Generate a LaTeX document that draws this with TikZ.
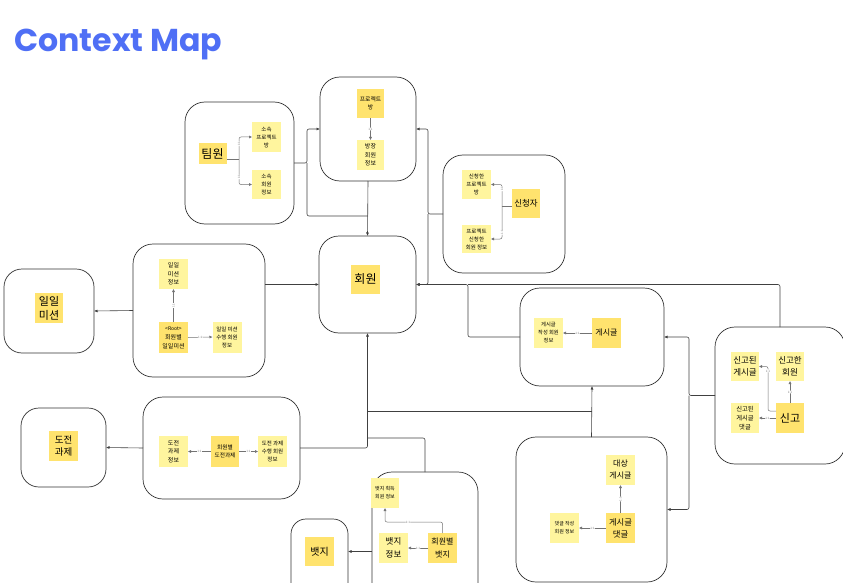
\documentclass[tikz,border=0pt]{standalone}
\usepackage{fontspec}
\setmainfont{Noto Sans CJK KR}
\newfontfamily\titlefont{Poppins}
\usetikzlibrary{arrows.meta}
\definecolor{stDark}{HTML}{FFE36E}
\definecolor{stLight}{HTML}{FFF59E}
\definecolor{titleblue}{HTML}{4F6FF5}
\newcommand{\fs}[1]{\fontsize{#1}{#1}\selectfont}
\tikzset{
  box/.style={draw=black!80, line width=0.7pt, rounded corners=20pt, inner sep=0pt, outer sep=0pt, fill=white},
  stD/.style={fill=stDark, inner sep=0.5pt, outer sep=0pt, align=center, text=black},
  stL/.style={fill=stLight, inner sep=0.5pt, outer sep=0pt, align=center, text=black},
  conn/.style={draw=black!75, line width=0.6pt, rounded corners=2pt, -{Latex[length=3.5pt,width=3pt]}},
  plain/.style={draw=black!75, line width=0.6pt, rounded corners=2pt},
  inner/.style={draw=black!55, line width=0.5pt, rounded corners=2pt, -{Latex[length=3pt,width=3pt]}},
  innerplain/.style={draw=black!55, line width=0.5pt, rounded corners=2pt},
  lbl/.style={font=\fs{3}, text=black!50, fill=white, inner sep=0.4pt},
}
\begin{document}
\begin{tikzpicture}[x=1pt,y=-1pt]
\useasboundingbox (0,0) rectangle (843,583);
\clip (0,0) rectangle (843,583);

% title
\node[anchor=base west, inner sep=0pt, text=titleblue] (title) at (14,52)
  {\resizebox{208pt}{!}{\titlefont\bfseries Context Map}};

% ===== boxes =====
\node[box, minimum width=109pt, minimum height=122pt] (tbox) at (239.5,163) {};
\node[box, minimum width=96pt, minimum height=104pt] (pbox) at (368,129) {};
\node[box, minimum width=122pt, minimum height=118pt] (sbox) at (504,214) {};
\node[box, minimum width=97pt, minimum height=97pt] (mbox) at (367.5,284.5) {};
\node[box, minimum width=90pt, minimum height=84pt, rounded corners=18pt] (dsmall) at (49,311) {};
\node[box, minimum width=132pt, minimum height=133pt] (dbox) at (199,310.5) {};
\node[box, minimum width=85pt, minimum height=79pt, rounded corners=18pt] (csmall) at (63.5,447.5) {};
\node[box, minimum width=157pt, minimum height=102pt] (cbox) at (221.5,448) {};
\node[box, minimum width=57pt, minimum height=106pt, rounded corners=15pt] (bsmall) at (319.5,572) {};
\node[box, minimum width=106pt, minimum height=148pt] (bbox) at (425,546) {};
\node[box, minimum width=144pt, minimum height=98pt] (gbox) at (592,337) {};
\node[box, minimum width=130pt, minimum height=137pt] (rbox) at (780,395.5) {};
\node[box, minimum width=151pt, minimum height=145pt] (ebox) at (591.5,509.5) {};

% ===== stickies =====
% 팀원
\node[stD, minimum width=28pt, minimum height=21pt, font=\fs{12}] (tm) at (212.5,153.5) {팀원};
\node[stL, minimum width=29pt, minimum height=30pt, font=\fontsize{5.5}{8}\selectfont] (tp) at (266.5,137) {소속\\프로젝트\\방};
\node[stL, minimum width=29pt, minimum height=29pt, font=\fontsize{5.5}{8}\selectfont] (ti) at (266.5,184.5) {소속\\회원\\정보};
% 프로젝트 방
\node[stD, minimum width=27pt, minimum height=29pt, font=\fontsize{5.8}{8}\selectfont] (pr) at (370.5,103.5) {프로젝트\\방};
\node[stL, minimum width=27pt, minimum height=30pt, font=\fontsize{6}{8.5}\selectfont] (pm) at (370.5,155) {방장\\회원\\정보};
% 신청자
\node[stL, minimum width=29pt, minimum height=29pt, font=\fontsize{5.5}{8}\selectfont] (sa) at (476.5,184.5) {신청한\\프로젝트\\방};
\node[stL, minimum width=29pt, minimum height=28pt, font=\fontsize{5.5}{8}\selectfont] (sb) at (476.5,239) {프로젝트\\신청한\\회원 정보};
\node[stD, minimum width=28pt, minimum height=29pt, font=\fs{8.5}] (sc) at (526,203.5) {신청자};
% 회원
\node[stD, minimum width=29pt, minimum height=29pt, font=\fs{12}] (ms) at (365.5,279.5) {회원};
% 일일 미션
\node[stD, minimum width=28pt, minimum height=30pt, font=\fontsize{11}{14}\selectfont] (ds1) at (49,308) {일일\\미션};
\node[stL, minimum width=29pt, minimum height=30pt, font=\fontsize{6}{8.5}\selectfont] (di) at (173.5,274) {일일\\미션\\정보};
\node[stD, minimum width=29pt, minimum height=31pt, font=\fontsize{6}{9}\selectfont] (dr) at (173.5,337.5) {{\fs{5}<Root>}\\회원별\\일일미션};
\node[stL, minimum width=29pt, minimum height=31pt, font=\fontsize{5.5}{8}\selectfont] (ds) at (227,337) {일일 미션\\수행 회원\\정보};
% 도전 과제
\node[stD, minimum width=29pt, minimum height=30pt, font=\fontsize{9.5}{12.5}\selectfont] (cs1) at (63.5,446) {도전\\과제};
\node[stL, minimum width=29pt, minimum height=31pt, font=\fontsize{6}{8.5}\selectfont] (ci) at (173.5,451.5) {도전\\과제\\정보};
\node[stD, minimum width=28pt, minimum height=31pt, font=\fontsize{5.7}{8.5}\selectfont] (cm) at (225,451.5) {회원별\\도전과제};
\node[stL, minimum width=29pt, minimum height=31pt, font=\fontsize{5.5}{8}\selectfont] (cs) at (272.5,451.5) {도전 과제\\수행 회원\\정보};
% 뱃지
\node[stD, minimum width=29pt, minimum height=29pt, font=\fs{10}] (bs1) at (319.5,551.5) {뱃지};
\node[stL, minimum width=28pt, minimum height=30pt, font=\fontsize{5}{8}\selectfont] (bg) at (385,493) {뱃지 획득\\회원 정보};
\node[stL, minimum width=29pt, minimum height=30pt, font=\fontsize{8.5}{13}\selectfont] (bi) at (393.5,548) {뱃지\\정보};
\node[stD, minimum width=29pt, minimum height=30pt, font=\fontsize{8}{12.5}\selectfont] (bm) at (442.5,548) {회원별\\뱃지};
% 게시글
\node[stL, minimum width=29pt, minimum height=30pt, font=\fontsize{5.3}{8}\selectfont] (gi) at (548.5,333) {게시글\\작성 회원\\정보};
\node[stD, minimum width=29pt, minimum height=30pt, font=\fs{8}] (gp) at (606.5,333) {게시글};
% 신고
\node[stL, minimum width=28pt, minimum height=29pt, font=\fontsize{8.5}{11.5}\selectfont] (ra) at (745,366.5) {신고된\\게시글};
\node[stL, minimum width=28pt, minimum height=29pt, font=\fontsize{8.5}{11.5}\selectfont] (rb) at (790,366.5) {신고한\\회원};
\node[stL, minimum width=28pt, minimum height=30pt, font=\fontsize{6.3}{9}\selectfont] (rc) at (745,418) {신고된\\게시글\\댓글};
\node[stD, minimum width=28pt, minimum height=30pt, font=\fs{11}] (rd) at (790,418) {신고};
% 게시글 댓글
\node[stL, minimum width=29pt, minimum height=30pt, font=\fontsize{8}{12}\selectfont] (et) at (620.5,470) {대상\\게시글};
\node[stD, minimum width=29pt, minimum height=30pt, font=\fontsize{8.3}{12}\selectfont] (ec) at (620.5,528) {게시글\\댓글};
\node[stL, minimum width=29pt, minimum height=30pt, font=\fontsize{5}{8}\selectfont] (ew) at (564.5,528) {댓글 작성\\회원 정보};

% ===== junction coordinates =====
\coordinate (jT) at (307,163);
\coordinate (jTm) at (368,216);
\coordinate (jS) at (428,214);
\coordinate (jG) at (468,284.5);
\coordinate (jR) at (689,395.5);
\coordinate (jE) at (592,411);
\coordinate (jEm) at (368,411);
\coordinate (jB) at (368,438);

% ===== context connectors =====
\draw[conn] (tbox.east) -- (jT) |- (pbox.west);
\draw[plain] (jT) |- (jTm);
\draw[conn] (pbox.south) -- (mbox.north);
\draw[conn] (sbox.west) -- (jS) |- (pbox.east);
\draw[conn] (jS) |- (mbox.east);
\draw[conn] (gbox.west) -| (jG) -- (mbox.east);
\draw[plain] (rbox.north) |- (jG);
\draw[conn] (rbox.west) -- (jR) |- (gbox.east);
\draw[conn] (jR) |- (ebox.east);
\draw[conn] (ebox.north) -- (gbox.south);
\draw[plain] (jE) -- (jEm);
\draw[conn] (cbox.east) -| (mbox.south);
\draw[conn] (cbox.west) -- (csmall.east);
\draw[plain] (bbox.north) |- (jB);
\draw[conn] (bbox.west |- bs1.center) -- (bsmall.east |- bs1.center);
\draw[conn] (dbox.east |- mbox.west) -- (mbox.west);
\draw[conn] (dbox.west) -- (dsmall.east);

% ===== inner connectors =====
\coordinate (tj) at (239,159);
\draw[innerplain] (tm.east |- tj) -- (tj);
\draw[inner] (tj) |- (tp.west) node[lbl, rotate=90, pos=0.35] {1:1};
\draw[inner] (tj) |- (ti.west) node[lbl, rotate=90, pos=0.35] {1:1};

\draw[inner] (pr.south) -- (pm.north) node[lbl, midway] {1:1};

\coordinate (sj) at (502,206);
\draw[innerplain] (sc.west |- sj) -- (sj);
\draw[inner] (sj) |- (sa.east) node[lbl, rotate=90, pos=0.4] {1:1};
\draw[inner] (sj) |- (sb.east) node[lbl, rotate=90, pos=0.4] {1:1};

\draw[inner] (dr.north) -- (di.south) node[lbl, midway, rotate=90] {1:1};
\draw[inner] (dr.east) -- (ds.west) node[lbl, midway] {1:1};

\draw[inner] (cm.west) -- (ci.east) node[lbl, midway] {1:1};
\draw[inner] (cm.east) -- (cs.west) node[lbl, midway] {1:1};

\draw[inner] (bm.west) -- (bi.east) node[lbl, midway] {1:1};
\draw[inner] (bm.north) -- ++(0,-11) -| (bg.south) node[lbl, pos=0.3] {1:1};

\draw[inner] (gp.west) -- (gi.east) node[lbl, midway] {1:1};

\draw[inner] (rd.north) -- (rb.south) node[lbl, midway] {1:1};
\draw[inner] (rd.west) -- (rc.east) node[lbl, midway] {1:1};
\coordinate (rj) at (768,411);
\draw[inner] (rd.west |- rj) -- (rj) |- (ra.east) node[lbl, pos=0.45] {1:1};

\draw[inner] (ec.north) -- (et.south) node[lbl, midway, rotate=90] {1:1};
\draw[inner] (ec.west) -- (ew.east) node[lbl, midway] {1:1};
\end{tikzpicture}
\end{document}
